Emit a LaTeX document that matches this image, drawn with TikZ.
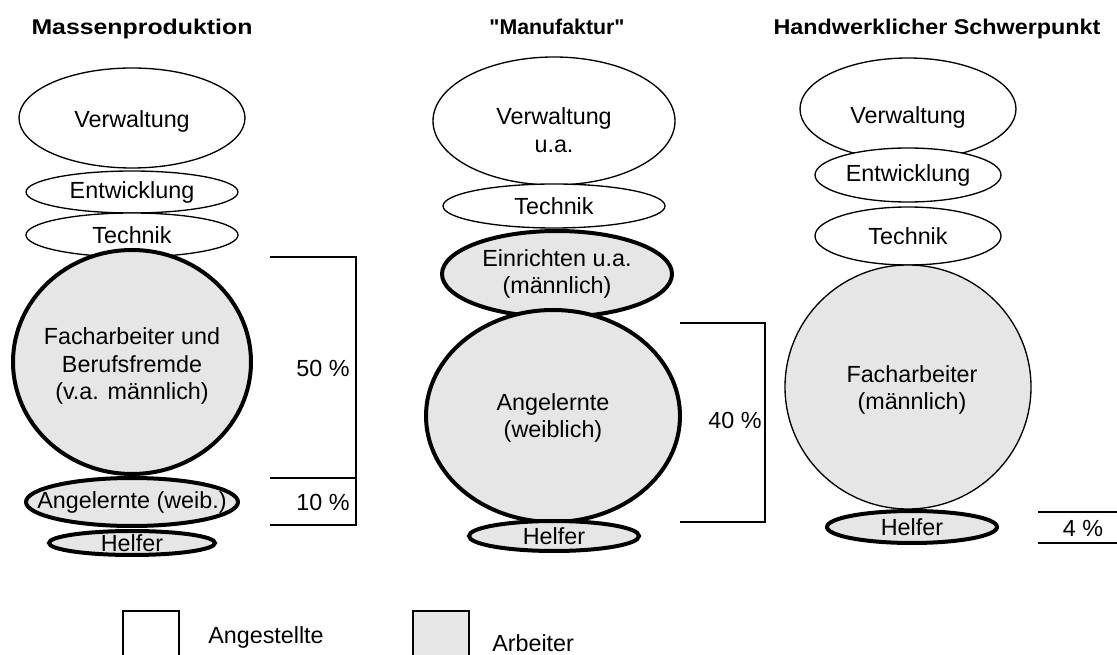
\documentclass[tikz,border=0pt]{standalone}
\usepackage{fontspec}
\usepackage{graphicx}
\setmainfont{Liberation Sans}
\newfontfamily\plainquote{Liberation Sans}[Ligatures=TeXOff]
\usetikzlibrary{shapes.geometric}
\definecolor{fillgray}{HTML}{E6E6E6}
\begin{document}
\begin{tikzpicture}[x=0.75pt,y=-0.75pt,
  ov/.style 2 args={ellipse, draw, line width=1pt, minimum width=#1*1.5pt, minimum height=#2*1.5pt, inner sep=0pt},
  emp/.style={fill=white},
  arb/.style={fill=fillgray},
  heavy/.style={line width=3pt},
  lbl/.style={font=\fontsize{17.5}{20.7}\selectfont, align=center, inner sep=0pt},
  head/.style={font=\fontsize{16}{19}\selectfont\bfseries, inner sep=0pt, anchor=base},
  brk/.style={line width=1pt},
]
\useasboundingbox (0,0) rectangle (1117,655);

% headers
\node[head] (h-a) at (142,35) {\resizebox{165.75pt}{\height}{Massenproduktion}};
\node[head] (h-b) at (557,35) {\plainquote"Manufaktur"};
\node[head] (h-c) at (937,35) {\resizebox{245.25pt}{\height}{Handwerklicher Schwerpunkt}};

% column 1
\node[ov={113}{50}, emp] (v1) at (132,118) {};
\node[ov={106}{21}, emp] (e1) at (132,192) {};
\node[ov={106}{22}, emp] (t1) at (132,235) {};
\node[ov={119}{112}, arb, heavy] (f1) at (132,362) {};
\node[ov={106}{24}, arb, heavy] (a1) at (132,502) {};
\node[ov={83}{12}, arb, heavy] (hf1) at (132,543) {};

% column 2
\node[ov={121}{64}, emp] (v2) at (554,121) {};
\node[ov={111}{22}, emp] (t2) at (554,206) {};
\node[ov={115}{43}, arb, heavy] (ei2) at (557,274) {};
\node[ov={127}{106}, arb, heavy] (an2) at (553,416) {};
\node[ov={85}{15}, arb, heavy] (hf2) at (554,536) {};

% column 3
\node[ov={108}{51}, emp] (v3) at (908,109) {};
\node[ov={93}{27}, emp] (e3) at (908,175) {};
\node[ov={93}{29}, emp] (t3) at (908,236) {};
\node[ov={123}{122}, arb] (f3) at (908,387) {};
\node[ov={85}{16}, arb, heavy] (hf3) at (912,527) {};

% texts
\node[lbl] (v1t) at (132,121) {Verwaltung};
\node[lbl] (e1t) at (e1) {Entwicklung};
\node[lbl] (t1t) at (t1) {Technik};
\node[lbl] (f1t) at (132,366) {Facharbeiter und\\Berufsfremde\\(v.a. männlich)};
\node[lbl] (a1t) at (a1) {Angelernte (weib.)};
\node[lbl] (hf1t) at (hf1) {Helfer};

\node[lbl] (v2t) at (554,130) {Verwaltung\\u.a.};
\node[lbl] (t2t) at (t2) {Technik};
\node[lbl] (ei2t) at (ei2) {Einrichten u.a.\\(männlich)};
\node[lbl] (an2t) at (553,418) {Angelernte\\(weiblich)};
\node[lbl] (hf2t) at (hf2) {Helfer};

\node[lbl] (v3t) at (908,117) {Verwaltung};
\node[lbl] (e3t) at (e3) {Entwicklung};
\node[lbl] (t3t) at (t3) {Technik};
\node[lbl] (f3t) at (912,390) {Facharbeiter\\(männlich)};
\node[lbl] (hf3t) at (hf3) {Helfer};

% brackets
\coordinate (b1tl) at (270,257);
\coordinate (b1tr) at (356,257);
\coordinate (b1ml) at (270,478);
\coordinate (b1mr) at (356,478);
\coordinate (b1bl) at (270,525);
\coordinate (b1br) at (356,525);
\draw[brk] (b1tl) -- (b1tr) -- (b1br) -- (b1bl);
\draw[brk] (b1ml) -- (b1mr);
\node[lbl] (p50) at (323,368) {50 \%};
\node[lbl] (p10) at (323,502) {10 \%};

\coordinate (b2tl) at (680,323);
\coordinate (b2tr) at (765,323);
\coordinate (b2bl) at (680,522);
\coordinate (b2br) at (765,522);
\draw[brk] (b2tl) -- (b2tr) -- (b2br) -- (b2bl);
\node[lbl] (p40) at (735,420) {40 \%};

\coordinate (b3tl) at (1038,512);
\coordinate (b3tr) at (1117,512);
\coordinate (b3bl) at (1038,543);
\coordinate (b3br) at (1117,543);
\draw[brk] (b3tl) -- (b3tr);
\draw[brk] (b3bl) -- (b3br);
\node[lbl] (p4) at (1083,528) {4 \%};

% legend
\filldraw[brk, fill=white] (123,656) -- (123,611) -- (179,611) -- (179,656);
\filldraw[brk, fill=fillgray] (413,656) -- (413,611) -- (469,611) -- (469,656);
\node[lbl] (lg1) at (266,637) {Angestellte};
\node[lbl, anchor=west] (lg2) at (492,643) {Arbeiter};
\end{tikzpicture}
\end{document}
